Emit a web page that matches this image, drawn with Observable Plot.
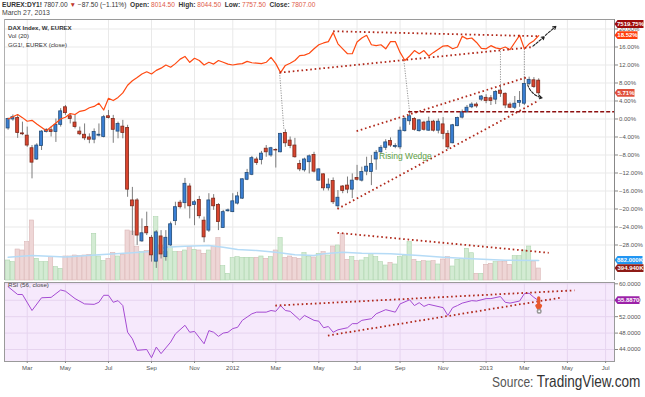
<!DOCTYPE html>
<html><head><meta charset="utf-8">
<script src="https://cdn.jsdelivr.net/npm/d3@7"></script>
<script src="https://cdn.jsdelivr.net/npm/@observablehq/plot@0.6"></script>
<style>
body{margin:0;background:#fff;}
#wrap{position:relative;width:645px;height:397px;overflow:hidden;font-family:"Liberation Sans",Arial,sans-serif;background:#fff;}
.layer{position:absolute;left:0;}
.txt{position:absolute;white-space:nowrap;color:#333;font-family:"Liberation Sans",Arial,sans-serif;}
.v{color:#e05a48;}
</style></head><body><div id="wrap">
<div class="txt" style="left:2px;top:1px;font-size:6.6px;"><b>EUREX:DY1!</b> 7807.00 <span style="color:#c0392b">▼</span> −87.50 (−1.11%) &nbsp;<b>Open:</b> <span class="v">8014.50</span> &nbsp;<b>High:</b> <span class="v">8044.50</span> &nbsp;<b>Low:</b> <span class="v">7757.50</span> &nbsp;<b>Close:</b> <span class="v">7807.00</span></div>
<div class="txt" style="left:2px;top:9px;font-size:6.9px;color:#444;">March 27, 2013</div>
<div class="txt" style="right:5px;top:372px;line-height:20px;transform:scaleX(0.8);transform-origin:100% 50%;"><span style="font-size:15px;color:#555;">Source: </span><span style="font-size:17px;color:#333;">TradingView.com</span></div>
</div>
<script>
// ---- categories: weekly bars (Mondays) ----
const DAY = 864e5;
const t0 = Date.UTC(2011, 1, 7);
const weeks = d3.utcMonday.range(new Date(t0), new Date(Date.UTC(2013, 2, 26)));
const at = i => new Date(t0 + i * 7 * DAY);
const xDomain = [new Date(Date.UTC(2011, 1, 1, 17, 30)), new Date(Date.UTC(2013, 6, 14))];

// ---- tick labels ----
const tickDates = ["2011-03-07","2011-05-02","2011-07-04","2011-09-05","2011-11-07","2012-01-02","2012-03-05","2012-05-07","2012-07-02","2012-09-03","2012-11-05","2013-01-07","2013-03-04","2013-05-06","2013-07-01"].map(s => new Date(s + "T00:00:00Z"));
const tickLabels = ["Mar","May","Jul","Sep","Nov","2012","Mar","May","Jul","Sep","Nov","2013","Mar","May","Jul"];
const pctTicks = [-28,-24,-20,-16,-12,-8,-4,0,4,8,12,16,20];
const rsiTicks = [44,48,52,56,60];

// ---- DAX weekly OHLC, % change vs first close ----
const open = [-2.1,-0.1,0.2,-3.2,-3.7,-6.5,-9.0,-6.0,-2.9,-2.5,
-2.9,-1.3,2.6,0.6,-0.8,-2.8,-3.5,-4.1,-4.6,-3.7,
-4.0,0.6,0.0,-2.8,-1.7,-2.0,-18.1,-18.1,-27.2,-24.0,
-26.4,-31.7,-26.1,-30.7,-28.1,-22.7,-18.6,-18.7,-15.0,-19.1,
-18.0,-22.6,-24.8,-17.7,-19.1,-24.2,-20.5,-20.7,-18.8,-17.7,
-13.5,-12.4,-9.0,-9.1,-6.6,-8.1,-6.9,-7.4,-3.1,-4.8,
-5.9,-10.0,-11.4,-9.6,-8.0,-13.7,-12.3,-15.4,-13.8,-19.4,
-15.0,-14.8,-15.7,-13.1,-13.7,-11.7,-11.8,-9.0,-7.4,-6.4,
-4.9,-6.2,-6.3,-2.7,-0.5,0.0,-2.7,-0.8,-2.6,-0.6,
-2.6,-1.2,-3.3,-5.4,-1.6,0.3,1.5,2.6,3.2,4.3,
4.7,4.6,4.3,6.3,5.6,3.2,2.5,3.6,3.4,7.8,
8.6,8.52];
const high = [0.2,0.9,0.8,-0.7,-1.8,-5.9,-5.5,-2.6,-2.2,-1.8,
0.0,2.3,3.0,1.2,0.8,-1.8,-1.1,-3.3,-2.2,-1.1,
0.8,1.9,0.8,-0.7,-0.3,-1.4,-15.2,-17.7,-22.2,-20.7,
-25.9,-24.8,-24.8,-24.8,-22.9,-18.5,-18.1,-13.2,-14.4,-18.1,
-17.2,-21.8,-16.6,-16.8,-18.8,-20.3,-20.0,-16.6,-16.3,-13.3,
-11.2,-8.3,-8.5,-7.2,-5.9,-6.3,-6.6,-3.2,-2.4,-4.0,
-4.3,-9.2,-8.7,-8.0,-7.4,-11.1,-12.2,-13.3,-13.1,-15.9,
-14.8,-12.9,-12.2,-10.3,-10.7,-8.5,-8.1,-7.0,-5.9,-4.6,
-4.2,-5.5,-1.8,0.4,1.5,0.3,-0.2,-0.5,0.4,-0.3,
0.0,0.3,-2.6,-1.2,0.4,2.0,3.0,3.6,3.6,5.2,
5.4,5.2,6.3,7.3,5.8,3.6,5.0,6.1,9.3,9.3,
9.2,8.93];
const low = [-2.5,-0.5,-4.3,-3.7,-6.3,-13.3,-9.2,-7.0,-3.1,-4.0,
-5.2,-1.8,0.8,-1.1,-2.2,-3.7,-4.8,-5.5,-5.5,-4.0,
-4.2,0.0,-5.4,-4.4,-4.4,-17.4,-25.9,-28.1,-27.4,-25.9,
-31.8,-33.2,-31.1,-31.6,-28.3,-23.7,-20.0,-20.0,-22.2,-23.7,
-22.2,-27.5,-25.2,-20.3,-24.8,-24.3,-20.7,-20.8,-19.1,-17.9,
-13.7,-12.6,-10.3,-10.2,-8.5,-8.5,-10.9,-7.5,-6.3,-6.6,
-8.7,-11.7,-11.8,-12.2,-12.0,-13.8,-16.0,-16.0,-19.0,-20.0,
-16.6,-16.6,-17.7,-13.8,-14.0,-12.6,-14.8,-11.4,-7.7,-7.0,
-6.3,-6.6,-6.8,-2.9,-1.4,-2.7,-2.9,-2.7,-2.7,-2.9,
-3.3,-4.6,-6.8,-5.5,-1.7,0.0,1.2,2.3,2.4,3.9,
3.4,3.0,3.2,4.8,2.3,2.3,2.1,2.6,3.0,7.4,
6.8,5.05];
const close = [0.0,0.4,-3.1,-3.4,-5.9,-9.7,-5.9,-2.8,-2.4,-2.9,
-1.3,1.7,1.3,0.0,-1.8,-3.4,-4.3,-4.6,-2.9,-3.5,
0.4,0.2,-2.4,-1.1,-3.1,-15.7,-19.4,-25.9,-25.4,-25.4,
-30.3,-25.2,-30.1,-26.4,-23.4,-19.6,-19.6,-14.4,-19.4,-18.5,
-21.6,-26.3,-18.1,-19.4,-22.9,-20.7,-20.3,-18.3,-17.2,-13.4,
-12.0,-8.7,-9.8,-7.7,-7.4,-6.5,-7.0,-3.3,-5.4,-6.0,
-8.5,-11.2,-9.0,-8.3,-11.7,-11.2,-15.4,-14.6,-18.5,-17.5,
-16.0,-15.7,-13.7,-13.5,-11.8,-10.6,-10.0,-7.5,-6.4,-5.2,
-5.9,-6.0,-2.6,0.0,0.6,-2.4,-0.3,-2.4,-0.6,-2.6,
-0.6,-3.3,-6.3,-1.4,0.2,1.5,2.5,3.2,2.8,5.0,
4.0,4.0,6.0,5.6,3.0,2.5,3.4,4.0,7.8,8.7,
7.1,5.71];
// ---- volume (thousands) ----
const volume = [660,604,1023,990,1264,1980,716,604,604,769,
439,386,792,792,825,802,825,848,1541,792,
637,716,914,792,848,1650,1617,1099,934,980,
980,2089,1155,934,1099,934,934,990,1099,1013,
990,881,990,1099,1396,472,221,736,769,749,
749,749,749,792,716,769,990,1396,749,792,
736,716,901,769,759,881,934,825,1122,1155,
1541,683,769,637,660,736,881,769,604,495,
584,528,769,825,1264,683,604,637,627,637,
528,693,769,462,683,703,1046,900,221,221,
518,551,604,604,604,518,802,802,990,1122,
604,394.94];
// ---- volume MA(20), read at bars ----
const maIdx = [0,5,12,19,26,29,31,33,37,42,45,48,52,56,60,64,66,70,74,80,86,91,97,104,111];
const maVal = [769,825,776,848,914,950,990,1099,1132,1155,1099,1023,990,934,848,825,881,934,901,881,825,769,716,670,660];
// ---- GG1! (Bund) close, % change ----
const ggIdx = [0,2,3,4,5,6,8,10,11,12,13,14,15,16,17,18,19,20,21,22,23,24,25,26,27,28,29,30,31,32,33,34,35,36,37,38,39,40,41,42,43,44,45,46,47,48,49,50,51,52,53,54,55,56,57,58,59,60,61,62,63,64,65,66,67,68,69,70,71,72,73,74,75,76,77,78,79,80,81,82,83,84,85,86,87,88,89,90,91,92,93,94,95,96,97,98,99,100,101,102,103,104,105,106,107,108,109,110,111];
const ggVal = [0.0,1.0,0.3,-0.5,-0.3,-1.1,-2.6,-0.9,0.0,0.4,1.2,1.0,1.7,1.9,2.5,2.8,3.5,2.0,4.6,4.1,4.8,5.8,7.5,8.5,9.2,10.0,10.5,10.0,10.8,11.3,12.0,11.5,12.3,13.3,13.9,12.6,13.5,13.0,12.0,12.6,12.2,13.0,12.6,12.2,12.0,12.2,12.3,12.8,12.5,12.4,12.3,12.6,13.7,12.3,10.3,11.9,12.4,13.0,14.1,14.2,14.6,15.6,16.5,16.9,17.2,19.2,16.7,15.6,14.5,14.5,17.1,18.0,18.6,16.5,16.3,16.5,15.6,17.2,17.2,14.8,13.0,14.0,15.2,14.5,15.2,14.0,14.8,15.5,16.2,16.3,15.6,16.0,18.4,17.8,18.0,17.0,15.7,15.6,16.3,15.8,15.6,16.0,15.4,17.0,18.6,15.6,16.7,17.4,18.52];
// ---- RSI(56) ----
const rsiIdx = [0,2,3,5,7,9,11,12,14,16,18,19,20,21,22,23,24,25,26,27,29,30,31,32,34,35,37,38,39,41,42,43,44,45,46,47,48,49,50,51,52,54,55,56,57,58,59,61,62,64,65,66,67,68,69,71,72,73,74,76,77,79,81,82,84,85,86,87,88,91,92,93,94,95,97,98,100,101,103,104,105,107,108,109,110,111];
const rsiVal = [59.3,57.4,57.4,53.5,56.6,56.7,58.5,58.2,56.4,55.1,55.0,55.5,57.2,57.2,55.5,55.9,54.7,48.2,46.6,43.8,44.0,42.0,44.6,43.0,45.8,47.8,49.9,48.2,48.4,45.4,48.6,48.2,47.2,48.0,48.2,49.1,49.4,51.1,51.9,52.7,53.1,53.1,53.5,53.3,54.7,53.5,53.3,51.2,52.3,51.1,50.9,49.3,49.6,48.2,48.8,49.3,50.3,50.3,51.1,51.5,52.7,53.7,53.1,55.1,56.1,54.7,55.4,54.5,55.0,54.2,52.3,54.2,54.7,55.3,55.9,55.8,56.4,56.4,56.9,55.5,55.3,55.8,57.6,57.7,56.7,55.887];

// ---- drawn annotations (bar index, value) ----
const priceTrends = [
  {i1:68.0, v1:19.5, i2:110.8, v2:18.4},
  {i1:56.8, v1:10.3, i2:109.9, v2:16.0},
  {i1:72.9, v1:-2.7, i2:108.6, v2:9.3},
  {i1:68.9, v1:-20.0, i2:111.0, v2:4.1}
];
const connectors = [
  {i1:56.8, v1:10.3, i2:57.7, v2:-2.4},
  {i1:82.8, v1:13.0, i2:84.0, v2:1.5},
  {i1:103, v1:15.6, i2:103, v2:6.8},
  {i1:108, v1:15.6, i2:108, v2:9.3}
];
const supportLevel = {i1:83.8, v:1.6};
const volTrend = [{i1:68.9, v1:1574, i2:113.1, v2:914}];
const rsiTrends = [
  {i1:55.9, v1:54.7, i2:118.5, v2:58.4},
  {i1:66.9, v1:47.4, i2:115.5, v2:56.6}
];
const dashArrows = [
  {i1:109.8, v1:16.2, i2:112.2, v2:18.3},
  {i1:112.4, v1:18.6, i2:114.6, v2:20.6}
];
const curveArrow = [{i1:108.7, v1:7.6, i2:111.7, v2:4.7}];
const rsiArrow = [{i1:111, v1:56.6, i2:111, v2:53.9}];

const candles = weeks.map((date, i) => ({date, o:open[i], h:high[i], l:low[i], c:close[i], v:volume[i]}));
const gg = ggIdx.map((i, k) => ({date: at(i), v: ggVal[k]}));
const rsi = rsiIdx.map((i, k) => ({date: at(i), v: rsiVal[k]}));
const ma = maIdx.map((i, k) => ({date: at(i), v: maVal[k]}));
const labelMap = new Map(tickDates.map((d, k) => [+d, tickLabels[k]]));
const fmtPct = d => (d < 0 ? "−" : "") + Math.abs(d).toFixed(2) + "%";

const UP = "#3a7fd4", UPS = "#244d78", DN = "#d9442e", DNS = "#7d2a1c";
const font = "Liberation Sans, Arial, sans-serif";
const pctDomain = [-35.89, 22.11];
const wrap = document.getElementById("wrap");

function mainBase(extra) {
  return Object.assign({
    width: 645, height: 265, marginLeft: 4, marginRight: 31, marginTop: 4, marginBottom: 0,
    x: {type: "utc", domain: xDomain, axis: null},
    color: {type: "identity"},
    style: {background: "transparent", overflow: "visible", fontFamily: font, fontSize: "6px"}
  }, extra);
}
function place(svg, top) {
  svg.classList.add("layer");
  svg.style.top = top + "px";
  svg.style.position = "absolute";
  wrap.appendChild(svg);
}
function addTag(svg, y, label, color, w) {
  const g = d3.select(svg).append("g");
  g.append("path").attr("d", `M614.5,${y} L617.5,${y - 3.9} H${617.5 + w} V${y + 3.9} H617.5 Z`).attr("fill", color);
  g.append("text").attr("x", 617.5 + w / 2).attr("y", y).attr("dy", "0.36em")
    .attr("text-anchor", "middle").attr("fill", "#fff").attr("font-size", 6)
    .attr("font-weight", "bold").attr("font-family", font).text(label);
}

// Layer 1: grid
const grid = Plot.plot(mainBase({
  y: {domain: pctDomain, axis: null},
  marks: [
    Plot.ruleY(pctTicks, {stroke: "#e9e9e9"}),
    Plot.ruleX(tickDates, {stroke: "#e9e9e9"})
  ]
}));
place(grid, 15);

// Layer 2: volume
const volPlot = Plot.plot(mainBase({
  y: {domain: [0, 8613], axis: null},
  marks: [
    Plot.rectY(candles, {x1: d => new Date(+d.date - 3.1 * DAY), x2: d => new Date(+d.date + 3.1 * DAY), y1: 0, y2: "v",
      fill: d => d.c >= d.o ? "#d3ebd3" : "#eed6d6", stroke: d => d.c >= d.o ? "#aed5ae" : "#dbb6b6", strokeWidth: 0.6}),
    Plot.line(ma, {x: "date", y: "v", stroke: "#b5dbf6", strokeWidth: 1.4}),
    Plot.link(volTrend, {x1: d => at(d.i1), y1: "v1", x2: d => at(d.i2), y2: "v2", stroke: "#b0281a", strokeWidth: 1.8, strokeDasharray: "1.6,2.8"})
  ]
}));
place(volPlot, 15);
{
  const ys = volPlot.scale("y");
  addTag(volPlot, ys.apply(maVal[maVal.length - 1]), "882.000K", "#2196f3", 25);
  addTag(volPlot, ys.apply(volume[volume.length - 1]), "394.940K", "#8e1b16", 26);
}

// Layer 3: price marks
const main = Plot.plot(mainBase({
  y: {domain: pctDomain, axis: null},
  marks: [
    Plot.ruleX(candles, {x: "date", y1: "l", y2: "h", stroke: "#7d7d7d", strokeWidth: 1}),
    Plot.rect(candles, {x1: d => new Date(+d.date - 2.2 * DAY), x2: d => new Date(+d.date + 2.2 * DAY), y1: "o", y2: "c",
      fill: d => d.c >= d.o ? UP : DN, stroke: d => d.c >= d.o ? UPS : DNS, strokeWidth: 0.8}),
    Plot.link(connectors, {x1: d => at(d.i1), y1: "v1", x2: d => at(d.i2), y2: "v2", stroke: "#8a8a8a", strokeWidth: 0.9, strokeDasharray: "1.2,1.3"}),
    Plot.line(gg, {x: "date", y: "v", stroke: "#ff4a12", strokeWidth: 1.2}),
    Plot.link(priceTrends, {x1: d => at(d.i1), y1: "v1", x2: d => at(d.i2), y2: "v2", stroke: "#b0281a", strokeWidth: 1.8, strokeDasharray: "1.6,2.8"}),
    Plot.ruleY([supportLevel], {x1: d => at(d.i1), x2: () => xDomain[1], y: "v", stroke: "#8e1010", strokeWidth: 1.5, strokeDasharray: "4,2"}),
    Plot.arrow(dashArrows, {x1: d => at(d.i1), y1: "v1", x2: d => at(d.i2), y2: "v2", stroke: "#222", strokeWidth: 1.1, strokeDasharray: "2.5,1.5", headLength: 4.5}),
    Plot.arrow(curveArrow, {x1: d => at(d.i1), y1: "v1", x2: d => at(d.i2), y2: "v2", stroke: "#222", strokeWidth: 1.1, strokeDasharray: "2.5,1.5", headLength: 5, bend: -30}),
    Plot.text([{date: at(77.6), v: -8.2}], {x: "date", y: "v", text: () => "Rising Wedge", textAnchor: "start", fill: "#5e9e45", fontSize: 8.5}),
    Plot.ruleY([pctDomain[1]], {stroke: "#9a9a9a"}),
    Plot.ruleX([xDomain[0]], {stroke: "#b0b0b0"}),
    Plot.ruleX([xDomain[1]], {stroke: "#888"}),
    Plot.axisY({ticks: pctTicks, anchor: "right", tickSize: 3, tickPadding: 1.5, tickFormat: fmtPct, fill: "#555", stroke: "#888", fontSize: 6})
  ]
}));
place(main, 15);
{
  const ys = main.scale("y");
  addTag(main, ys.apply(21.0), "7519.75%", "#9e0b0b", 26);
  addTag(main, ys.apply(ggVal[ggVal.length - 1]), "18.52%", "#ff3d0a", 20);
  addTag(main, ys.apply(close[close.length - 1]), "5.71%", "#e0503c", 17);
}

// Layer 4: RSI panel
const rsiPlot = Plot.plot({
  width: 645, height: 96, marginLeft: 4, marginRight: 31, marginTop: 2, marginBottom: 15,
  x: {type: "utc", domain: xDomain},
  y: {domain: [41.08, 60.32]},
  style: {background: "transparent", overflow: "visible", fontFamily: font, fontSize: "6px"},
  marks: [
    Plot.frame({fill: "#f6e9fc", stroke: null}),
    Plot.ruleY(rsiTicks, {stroke: "#e6d4ef"}),
    Plot.ruleX(tickDates, {stroke: "#e6d4ef"}),
    Plot.line(rsi, {x: "date", y: "v", stroke: "#a54bd3", strokeWidth: 1}),
    Plot.link(rsiTrends, {x1: d => at(d.i1), y1: "v1", x2: d => at(d.i2), y2: "v2", stroke: "#b0281a", strokeWidth: 1.8, strokeDasharray: "1.6,2.8"}),
    Plot.arrow(rsiArrow, {x1: d => at(d.i1), y1: "v1", x2: d => at(d.i2), y2: "v2", stroke: "#e8582e", strokeWidth: 3.2, headLength: 6}),
    Plot.dot([{date: at(111.1), v: 53.3}], {x: "date", y: "v", r: 1.8, stroke: "#999", fill: "white"}),
    Plot.text([{date: xDomain[0], v: 59.3}], {x: "date", y: "v", text: () => "RSI (56, close)", textAnchor: "start", dx: 3.5, dy: -2, fill: "#444", fontSize: 6.2}),
    Plot.frame({stroke: "#9a9a9a"}),
    Plot.axisY({ticks: rsiTicks, anchor: "right", tickSize: 3, tickPadding: 1.5, tickFormat: d => d.toFixed(4), fill: "#555", stroke: "#888", fontSize: 6}),
    Plot.axisX({ticks: tickDates, anchor: "bottom", tickSize: 2, tickPadding: 2.5, tickFormat: d => labelMap.get(+d), fill: "#555", stroke: "#888", fontSize: 6})
  ]
});
place(rsiPlot, 280);
addTag(rsiPlot, rsiPlot.scale("y").apply(rsiVal[rsiVal.length - 1]), "55.8870", "#9c22a8", 22);

// Legend texts inside the price panel
const legend = [["DAX Index, W, EUREX", 24.2, "bold"], ["Vol (20)", 32.2, "normal"], ["GG1!, EUREX (close)", 40.9, "normal"]];
legend.forEach(([t, top, w]) => {
  const d = document.createElement("div");
  d.className = "txt"; d.textContent = t;
  d.style.cssText += `left:8px;top:${top}px;font-size:6.1px;font-weight:${w};color:#333;`;
  wrap.appendChild(d);
});
</script></body></html>
